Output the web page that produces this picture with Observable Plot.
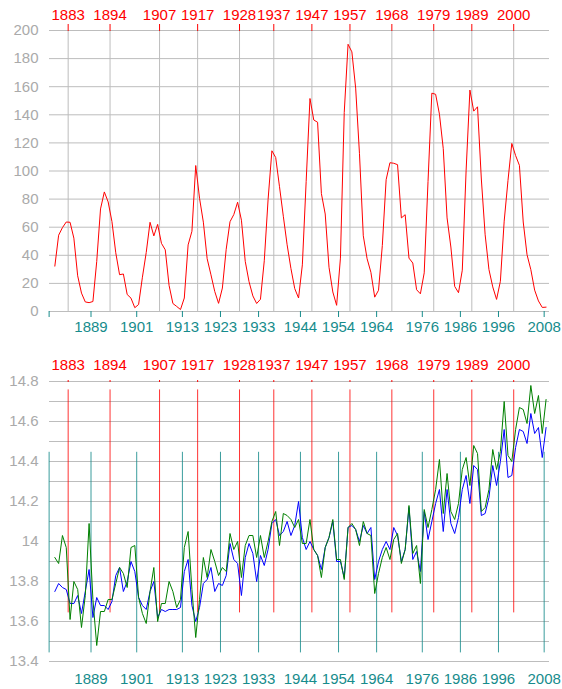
<!DOCTYPE html>
<html>
<head>
<meta charset="utf-8">
<script src="https://cdn.jsdelivr.net/npm/d3@7"></script>
<script src="https://cdn.jsdelivr.net/npm/@observablehq/plot@0.6"></script>
<style>
  html, body { margin: 0; padding: 0; background: #fff; }
  #chart { width: 562px; height: 689px; position: relative; }
  #chart svg { display: block; }
</style>
</head>
<body>
<div id="chart"></div>
<script>
// ---------- DATA ----------
const years = d3.range(1880, 2010); // 1880 … 2009

// Yearly mean sunspot number
const sunspots = [
  32.3, 54.3, 59.7, 63.7, 63.5, 52.2, 25.4, 13.1, 6.8, 6.3,
  7.1, 35.6, 73.0, 85.1, 78.0, 64.0, 41.8, 26.2, 26.7, 12.1,
  9.5, 2.7, 5.0, 24.4, 42.0, 63.5, 53.8, 62.0, 48.5, 43.9,
  18.6, 5.7, 3.6, 1.4, 9.6, 47.4, 57.1, 103.9, 80.6, 63.6,
  37.6, 26.1, 14.2, 5.8, 16.7, 44.3, 63.9, 69.0, 77.8, 65.0,
  35.7, 21.2, 11.1, 5.7, 8.7, 36.1, 79.7, 114.4, 109.6, 88.8,
  67.8, 47.5, 30.6, 16.3, 9.6, 33.2, 92.6, 151.6, 136.3, 134.7,
  83.9, 69.4, 31.5, 13.9, 4.4, 38.0, 141.7, 190.2, 184.8, 159.0,
  112.3, 53.9, 37.6, 27.9, 10.2, 15.1, 47.0, 93.8, 105.9, 105.5,
  104.5, 66.6, 68.9, 38.0, 34.5, 15.5, 12.6, 27.5, 92.5, 155.4,
  154.6, 140.4, 115.9, 66.6, 45.9, 17.9, 13.4, 29.4, 100.2, 157.6,
  142.6, 145.7, 94.3, 54.6, 29.9, 17.5, 8.6, 21.5, 64.3, 93.3,
  119.6, 111.0, 104.0, 63.7, 40.4, 29.8, 15.2, 7.5, 2.9, 3.1
];

// Global mean temperature (°C), two series
const tempBlue = [
  13.75, 13.79, 13.77, 13.76, 13.69, 13.69, 13.73, 13.64, 13.75, 13.86,
  13.62, 13.72, 13.68, 13.68, 13.66, 13.70, 13.83, 13.87, 13.75, 13.80,
  13.90, 13.85, 13.72, 13.68, 13.66, 13.75, 13.80, 13.62, 13.66, 13.65,
  13.66, 13.66, 13.66, 13.67, 13.85, 13.91, 13.68, 13.60, 13.67, 13.79,
  13.81, 13.87, 13.75, 13.79, 13.78, 13.83, 13.99, 13.91, 13.89, 13.73,
  13.92, 13.99, 13.94, 13.80, 13.93, 13.88, 13.96, 14.09, 14.11, 14.03,
  14.05, 14.10, 14.03, 14.08, 14.20, 14.02, 13.96, 14.00, 13.96, 13.93,
  13.86, 13.97, 14.02, 14.10, 13.90, 13.90, 13.82, 14.07, 14.08, 14.06,
  14.00, 14.08, 14.04, 14.07, 13.81, 13.90, 13.96, 14.00, 13.96, 14.07,
  14.03, 13.90, 13.96, 14.17, 13.91, 13.95, 13.85, 14.15, 14.01, 14.10,
  14.19, 14.26, 14.05, 14.26, 14.09, 14.04, 14.12, 14.26, 14.33, 14.19,
  14.38, 14.36, 14.13, 14.14, 14.22, 14.38, 14.28, 14.40, 14.56, 14.32,
  14.33, 14.47, 14.56, 14.55, 14.49, 14.64, 14.54, 14.57, 14.42, 14.57
];
const tempGreen = [
  13.92, 13.89, 14.03, 13.97, 13.61, 13.80, 13.76, 13.57, 13.73, 14.09,
  13.71, 13.48, 13.65, 13.65, 13.71, 13.71, 13.79, 13.87, 13.84, 13.77,
  13.97, 13.98, 13.72, 13.64, 13.59, 13.75, 13.87, 13.60, 13.69, 13.69,
  13.80, 13.75, 13.67, 13.71, 13.97, 14.05, 13.76, 13.52, 13.71, 13.92,
  13.82, 13.96, 13.90, 13.83, 13.87, 13.85, 14.04, 13.96, 14.00, 13.82,
  13.98, 14.03, 14.03, 13.92, 14.03, 13.92, 14.00, 14.10, 14.15, 13.98,
  14.14, 14.13, 14.11, 14.07, 14.11, 13.99, 13.99, 14.11, 13.96, 13.93,
  13.82, 13.97, 14.02, 14.11, 13.91, 13.91, 13.81, 14.07, 14.09, 14.06,
  13.98, 14.10, 14.04, 14.03, 13.74, 13.84, 13.92, 13.97, 13.91, 14.01,
  14.04, 13.89, 13.96, 14.18, 13.94, 13.98, 13.79, 14.16, 14.07, 14.16,
  14.26, 14.41, 14.14, 14.34, 14.15, 14.11, 14.19, 14.36, 14.42, 14.28,
  14.48, 14.44, 14.15, 14.17, 14.26, 14.46, 14.36, 14.45, 14.70, 14.43,
  14.40, 14.56, 14.67, 14.66, 14.59, 14.78, 14.64, 14.73, 14.54, 14.71
];

// Solar-maximum years (red) and bottom-axis tick years (teal)
const maxYears   = [1883, 1894, 1907, 1917, 1928, 1937, 1947, 1957, 1968, 1979, 1989, 2000];
const tickYears  = [1878, 1889, 1901, 1913, 1923, 1933, 1944, 1954, 1964, 1976, 1986, 1996, 2008];
const tickLabels = ["", "1889", "1901", "1913", "1923", "1933", "1944", "1954", "1964", "1976", "1986", "1996", "2008"];

const sunTicks  = [0, 20, 40, 60, 80, 100, 120, 140, 160, 180, 200];
const tempTicks = [13.4, 13.6, 13.8, 14.0, 14.2, 14.4, 14.6, 14.8];
const tempGrid  = [13.4, 13.5, 13.6, 13.7, 13.8, 13.9, 14.0, 14.1, 14.2, 14.3, 14.4, 14.5, 14.6, 14.7, 14.8];

// ---------- TABLES ----------
const sunRows  = years.map((y, i) => ({ year: y, value: sunspots[i] }));
const tempRows = years.map((y, i) => ({ year: y, blue: tempBlue[i], green: tempGreen[i] }));

// ---------- STYLE ----------
const FONT = '"Liberation Sans", Arial, Helvetica, sans-serif';
const GRID = "#bdbdbd";
const LABEL_GRAY = "#aaaaaa";
const TEAL = "#178c8c";
const X_DOMAIN = [1878.1, 2009.4];
const yearFmt = d => String(d);
const tealFmt = d => tickLabels[tickYears.indexOf(d)];
const xPos = d => d.year - 0.5;

const common = {
  width: 562,
  marginLeft: 49,
  marginRight: 13,
  style: { fontFamily: FONT, fontSize: "15px", background: "white", overflow: "visible" },
  x: { domain: X_DOMAIN }
};

// ---------- TOP PANEL: sunspots ----------
const topChart = Plot.plot({
  ...common,
  height: 340,
  marginTop: 30,
  marginBottom: 29,
  y: { domain: [0, 200] },
  marks: [
    Plot.ruleY(sunTicks, { stroke: GRID, strokeWidth: 1 }),
    Plot.ruleX(maxYears, { stroke: GRID, strokeWidth: 1 }),
    Plot.line(sunRows, { x: xPos, y: "value", stroke: "#ff0000", strokeWidth: 1 }),
    Plot.axisY(sunTicks, { anchor: "left", tickSize: 0, tickPadding: 11, color: LABEL_GRAY, fontSize: 15, label: null, tickFormat: yearFmt }),
    Plot.axisX(maxYears, { anchor: "top", tickSize: 7, tickPadding: 4, color: "#ff0000", fontSize: 15, label: null, tickFormat: yearFmt }),
    Plot.axisX(tickYears, { anchor: "bottom", tickSize: 6, tickPadding: 4, color: TEAL, fontSize: 15, label: null, tickFormat: tealFmt })
  ]
});

// ---------- BOTTOM PANEL: temperatures ----------
const bottomChart = Plot.plot({
  ...common,
  height: 349,
  marginTop: 41,
  marginBottom: 28,
  y: { domain: [13.4, 14.8] },
  marks: [
    Plot.ruleY(tempGrid, { stroke: GRID, strokeWidth: 1 }),
    Plot.ruleX(maxYears, { y1: 13.643, y2: 14.758, stroke: "#ff0000", strokeOpacity: 0.8, strokeWidth: 1 }),
    Plot.ruleX(tickYears, { y1: 13.443, y2: 14.446, stroke: TEAL, strokeOpacity: 0.85, strokeWidth: 1 }),
    Plot.line(tempRows, { x: xPos, y: "blue", stroke: "#0000ff", strokeWidth: 1 }),
    Plot.line(tempRows, { x: xPos, y: "green", stroke: "#008000", strokeWidth: 1 }),
    Plot.axisY(tempTicks, { anchor: "left", tickSize: 0, tickPadding: 11, color: LABEL_GRAY, fontSize: 15, label: null, tickFormat: d => String(+d.toFixed(1)) }),
    Plot.axisX(maxYears, { anchor: "top", tickSize: 2, tickPadding: 10, color: "#ff0000", fontSize: 15, label: null, tickFormat: yearFmt }),
    Plot.axisX(tickYears, { anchor: "bottom", tickSize: 0, tickPadding: 12, color: TEAL, fontSize: 15, label: null, tickFormat: tealFmt })
  ]
});

const root = document.getElementById("chart");
root.appendChild(topChart);
root.appendChild(bottomChart);
</script>
</body>
</html>
